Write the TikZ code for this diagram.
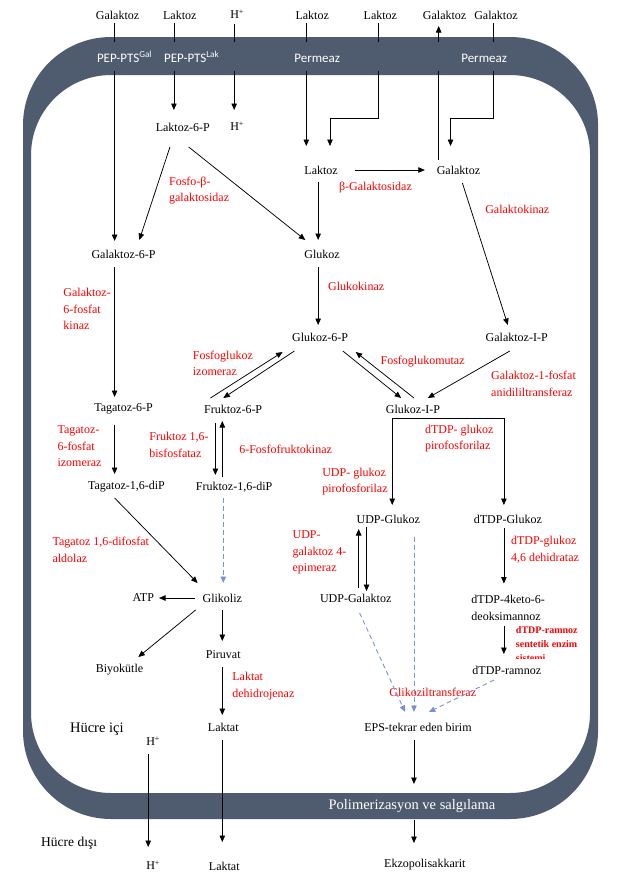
\documentclass[tikz,border=0pt]{standalone}
\usepackage{fontspec}
\setmainfont{Liberation Serif}
\newfontfamily\calib{Carlito}
\usetikzlibrary{arrows.meta,calc}
\definecolor{memb}{HTML}{4F5B6E}
\definecolor{dblue}{HTML}{7A92CE}
\definecolor{enzred}{HTML}{FF0000}
\begin{document}
\begin{tikzpicture}[x=0.988pt,y=-1pt,
  lbl/.style={font=\fontsize{12}{14}\selectfont, inner sep=0pt},
  enz/.style={font=\fontsize{12}{16.5}\selectfont, text=enzred, align=left, anchor=west, inner sep=0pt},
  mlbl/.style={font=\calib\fontsize{13}{15}\selectfont, text=white, inner sep=0pt},
  ln/.style={line width=0.75pt},
  ar/.style={-{Triangle[length=6.5pt,width=5.5pt]}, line width=0.75pt},
  dar/.style={-{Triangle[length=6.5pt,width=5.5pt]}, dblue, line width=0.9pt, dash pattern=on 4.5pt off 3.5pt}]
\useasboundingbox (0,0) rectangle (627.5,876);
% membrane
\fill[memb, even odd rule] [rounded corners=88pt] (23.3,37) rectangle (605.3,819) [rounded corners=80pt] (31.4,75) rectangle (597.2,793);

% top labels
\node[lbl] (tGal1) at (119,15) {Galaktoz};
\node[lbl] (tLak1) at (182,15) {Laktoz};
\node[lbl] (tH) at (240,14) {H\textsuperscript{+}};
\node[lbl] (tLak2) at (316,15) {Laktoz};
\node[lbl] (tLak3) at (385,15) {Laktoz};
\node[lbl] (tGal2) at (450,15) {Galaktoz};
\node[lbl] (tGal3) at (502,15) {Galaktoz};
% band labels
\node[mlbl] (pepGal) at (126,57) {PEP-PTS\textsuperscript{Gal}};
\node[mlbl] (pepLak) at (194,57) {PEP-PTS\textsuperscript{Lak}};
\node[mlbl] (perm1) at (321,58) {Permeaz};
\node[mlbl] (perm2) at (490,58) {Permeaz};
\node[font=\fontsize{14.5}{16}\selectfont, text=white, inner sep=0pt] (poli) at (417,806) {Polimerizasyon ve salgılama};

% metabolites
\node[lbl] (lak6p) at (185,127) {Laktoz-6-P};
\node[lbl] (hin) at (240,126) {H\textsuperscript{+}};
\node[lbl] (lakIn) at (325,170) {Laktoz};
\node[lbl] (galIn) at (464,170) {Galaktoz};
\node[lbl] (gal6p) at (125,254) {Galaktoz-6-P};
\node[lbl] (glk) at (326,254) {Glukoz};
\node[lbl] (glk6p) at (324,337) {Glukoz-6-P};
\node[lbl] (galIP) at (523,337) {Galaktoz-I-P};
\node[lbl] (tag6p) at (125,409) {Tagatoz-6-P};
\node[lbl] (fru6p) at (236,409) {Fruktoz-6-P};
\node[lbl] (glkIP) at (418,409) {Glukoz-I-P};
\node[lbl] (tagdp) at (128,487) {Tagatoz-1,6-diP};
\node[lbl] (frudp) at (237,487) {Fruktoz-1,6-diP};
\node[lbl] (udpg) at (393,519) {UDP-Glukoz};
\node[lbl] (dtdpg) at (514,519) {dTDP-Glukoz};
\node[lbl] (atp) at (145,598) {ATP};
\node[lbl] (glik) at (225,598) {Glikoliz};
\node[lbl] (udpgal) at (360,598) {UDP-Galaktoz};
\node[lbl, align=left, anchor=west, font=\fontsize{12}{17}\selectfont] (dkm) at (477,607.5) {dTDP-4keto-6-\\deoksimannoz};
\node[lbl] (piruvat) at (226,655) {Piruvat};
\node[lbl] (biyo) at (121,670) {Biyokütle};
\node[lbl, anchor=west] (dram) at (478,670) {dTDP-ramnoz};
\node[lbl] (laktat) at (226,727) {Laktat};
\node[lbl] (eps) at (423,727) {EPS-tekrar eden birim};
\node[lbl, font=\fontsize{14.5}{16}\selectfont] (hici) at (98,729) {Hücre içi};
\node[lbl] (hIn2) at (155,741) {H\textsuperscript{+}};
\node[lbl, font=\fontsize{13.5}{16}\selectfont] (hdisi) at (70,843) {Hücre dışı};
\node[lbl] (hOut) at (155,865) {H\textsuperscript{+}};
\node[lbl] (lakOut) at (227,866) {Laktat};
\node[lbl] (ekzo) at (430,865) {Ekzopolisakkarit};

% enzymes
\node[enz] (fosfo) at (171,190.5) {Fosfo-β-\\galaktosidaz};
\node[enz] (bgal) at (343,188) {β-Galaktosidaz};
\node[enz] (galkin) at (491,209) {Galaktokinaz};
\node[enz] (g6pk) at (64,309) {Galaktoz-\\6-fosfat\\kinaz};
\node[enz] (glkin) at (332,286) {Glukokinaz};
\node[enz] (fgi) at (195,363.5) {Fosfoglukoz\\izomeraz};
\node[enz] (fgm) at (385,362) {Fosfoglukomutaz};
\node[enz] (g1p) at (497,384) {Galaktoz-1-fosfat\\anidililtransferaz};
\node[enz] (t6pi) at (58,446.5) {Tagatoz-\\6-fosfat\\izomeraz};
\node[enz] (fbp) at (151,445) {Fruktoz 1,6-\\bisfosfataz};
\node[enz] (pfk) at (242,449) {6-Fosfofruktokinaz};
\node[enz] (dtdpgp) at (430,438.5) {dTDP- glukoz\\pirofosforilaz};
\node[enz] (udpgp) at (326,481.5) {UDP- glukoz\\pirofosforilaz};
\node[enz] (tda) at (53,550) {Tagatoz 1,6-difosfat\\aldolaz};
\node[enz] (epim) at (296,552.5) {UDP-\\galaktoz 4-\\epimeraz};
\node[enz] (dehyd) at (517,550) {dTDP-glukoz\\4,6 dehidrataz};
\node[enz] (gtf) at (394,692) {Glikoziltransferaz};
\node[enz] (ldh) at (235,686) {Laktat\\dehidrojenaz};
\begin{scope}
\clip (515,618) rectangle (605,658);
\node[enz, font=\bfseries\fontsize{10}{14}\selectfont] (rsent) at (522,644) {dTDP-ramnoz\\sentetik enzim\\sistemi};
\end{scope}

% connectors through top membrane
\draw[ln] ($(tGal1)+(-3,8)$) -- ($(tGal1)+(-3,27)$);
\draw[ar] ($(pepGal)+(-10,14)$) -- ($(gal6p)+(-9,-13)$);
\draw[ln] ($(tLak1)+(-6,8)$) -- ($(tLak1)+(-6,27)$);
\draw[ar] ($(pepLak)+(-18,14)$) -- ($(lak6p)+(-9,-17)$);
\draw[ln] ($(tH)+(-3,10)$) -- ($(tH)+(-3,28)$);
\draw[ar] ($(tH)+(-3,57)$) -- ($(hin)+(-3,-16)$);
\draw[ln] ($(tLak2)+(-6,8)$) -- ($(tLak2)+(-6,27)$);
\draw[ar] ($(perm1)+(-11,13)$) -- ($(lakIn)+(-15,-24)$);
\draw[ln] ($(tLak3)+(-2,8)$) -- ($(tLak3)+(-2,27)$);
\draw[ar] ($(tLak3)+(-2,56)$) |- ($(lakIn)+(9,-52)$) -- ($(lakIn)+(9,-24)$);
\draw[ln] ($(galIn)+(-20,-10)$) -- ($(galIn)+(-20,-99)$);
\draw[ar] ($(tGal2)+(-6,27)$) -- ($(tGal2)+(-6,11)$);
\draw[ln] ($(tGal3)+(-3,8)$) -- ($(tGal3)+(-3,27)$);
\draw[ar] ($(perm2)+(9,13)$) |- ($(galIn)+(-8,-52)$) -- ($(galIn)+(-8,-24)$);

% pathways
\draw[ar] ($(lak6p)+(-13,20)$) -- ($(gal6p)+(16,-14)$);
\draw[ar] ($(lak6p)+(6,20)$) -- ($(glk)+(-17,-14)$);
\draw[ar] ($(lakIn)+(34,0)$) -- ($(galIn)+(-34,0)$);
\draw[ar] ($(lakIn)+(-3,12)$) -- ($(glk)+(-4,-14)$);
\draw[ar] ($(galIn)+(4,13)$) -- ($(galIP)+(-9,-12)$);
\draw[ar] ($(glk)+(-4,13)$) -- ($(glk6p)+(-2,-12)$);
\draw[ar] ($(gal6p)+(-9,13)$) -- ($(tag6p)+(-9,-12)$);
\draw[ar] ($(fru6p)+(-23,-11)$) -- ($(glk6p)+(-38,15)$);
\draw[ar] ($(glk6p)+(-26,14)$) -- ($(fru6p)+(-10,-11)$);
\draw[ar] ($(glk6p)+(23,14)$) -- ($(glkIP)+(-12,-11)$);
\draw[ar] ($(glkIP)+(1,-11)$) -- ($(glk6p)+(36,15)$);
\draw[ar] ($(galIP)+(-7,14)$) -- ($(glkIP)+(15,-11)$);
\draw[ar] ($(glkIP)+(-21,9)$) -- ($(udpg)+(4,-14)$);
\draw[ar] ($(glkIP)+(-21,9)$) -| ($(dtdpg)+(-4,-14)$);
\draw[ar] ($(tag6p)+(-9,16)$) -- ($(tagdp)+(-12,-13)$);
\draw[ar] ($(fru6p)+(-18,14)$) -- ($(frudp)+(-19,-12)$);
\draw[ar] ($(frudp)+(-12,-10)$) -- ($(fru6p)+(-11,12)$);
\draw[ar] ($(tagdp)+(-12,11)$) -- ($(glik)+(-25,-15)$);
\draw[dar] ($(frudp)+(-11,11)$) -- ($(glik)+(1,-15)$);
\draw[ar] ($(udpgal)+(3,-10)$) -- ($(udpg)+(-30,10)$);
\draw[ar] ($(udpg)+(-22,8)$) -- ($(udpgal)+(11,-7)$);
\draw[dar] ($(udpg)+(26,18)$) -- ($(eps)+(-4,-15)$);
\draw[ar] ($(dtdpg)+(-4,9)$) -- ($(dkm.west)+(33,-24)$);
\draw[ar] ($(glik)+(-28,0)$) -- ($(atp)+(16,0)$);
\draw[ar] ($(glik)+(-27,12)$) -- ($(biyo)+(19,-13)$);
\draw[ar] ($(glik)+(0,12)$) -- ($(piruvat)+(-1,-14)$);
\draw[ar] ($(dkm.west)+(33,18)$) -- ($(dram.west)+(32,-16)$);
\draw[dar] ($(udpgal)+(4,15)$) -- ($(eps)+(-13,-15)$);
\draw[dar] ($(dram.west)+(22,10)$) -- ($(eps)+(11,-15)$);
\draw[ar] ($(piruvat)+(-1,12)$) -- ($(laktat)+(-1,-12)$);
\draw[ar] ($(laktat)+(-1,13)$) -- ($(lakOut)+(-2,-24)$);
\draw[ar] ($(hIn2)+(-5,13)$) -- ($(hOut)+(-5,-18)$);
\draw[ar] ($(eps)+(-4,13)$) -- ($(poli)+(2,-22)$);
\draw[ar] ($(poli)+(2,14)$) -- ($(ekzo)+(-11,-22)$);
\end{tikzpicture}
\end{document}
